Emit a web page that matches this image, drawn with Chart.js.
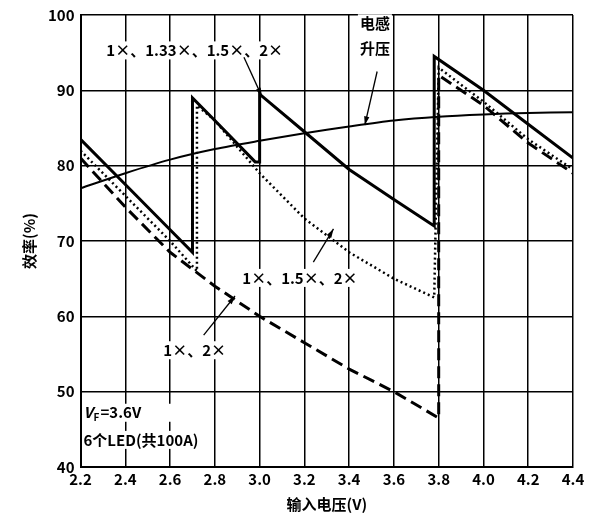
<!DOCTYPE html>
<html><head><meta charset="utf-8">
<script src="https://cdn.jsdelivr.net/npm/chart.js@4"></script>
<style>html,body{margin:0;background:#fff}#w{width:595px;height:529px}</style>
</head><body><div id="w"><canvas id="c"></canvas></div>
<script>
const xTicks=[2.2,2.4,2.6,2.8,3.0,3.2,3.4,3.6,3.8,4.0,4.2,4.4];
const yTicks=[40,50,60,70,80,90,100];
const boostX=[2.2,2.4,2.6,2.8,3.0,3.2,3.4,3.6,3.8,4.0,4.2,4.4];
const boostY=[77,79,80.8,82.2,83.3,84.3,85.2,86,86.5,86.8,87,87.1];
const fourX=[2.2,2.4,2.6,2.7,2.7,2.8,2.98,3.0,3.0,3.2,3.4,3.6,3.78,3.78,4.0,4.2,4.4];
const fourY=[83.5,77.5,71.5,68.5,89,86,80.5,80.5,89.5,84.5,79.5,75.5,72,94.5,90,85.5,81];
const threeX=[2.2,2.4,2.6,2.72,2.72,2.8,3.0,3.2,3.4,3.6,3.78,3.8,4.0,4.2,4.4];
const threeY=[82,76,70,66,88,86,79,73,68.5,65,62.5,93,88.5,83.5,79.5];
const twoX=[2.2,2.4,2.6,2.8,3.0,3.2,3.4,3.6,3.8,3.8,4.0,4.2,4.4];
const twoY=[81,74.5,68.5,64,60,56.5,53,50,46.5,92,88,83,79];
const pts=(xs,ys)=>xs.map((x,i)=>({x,y:ys[i]}));
const F='"Noto Sans CJK SC","DejaVu Sans Mono",monospace';
const labels=[
 {t:'电感',x:3.515,y:98.9,a:'center'},{t:'升压',x:3.515,y:95.6,a:'center'},
 {t:'1×、1.33×、1.5×、2×',x:2.71,y:95.3,a:'center'},
 {t:'1×、1.5×、2×',x:3.18,y:65.1,a:'center'},
 {t:'1×、2×',x:2.71,y:55.5,a:'center'},
 {t:'6个LED(共100A)',x:2.213,y:43.6,a:'left'}];
const arrows=[[2.93,94.4,3.01,89.2],[3.525,92.5,3.47,85.4],[3.24,67.2,3.33,71.6],[2.75,57.5,2.89,62.7]];
const deco={id:'deco',afterDatasetsDraw(ch){const c=ch.ctx,xs=ch.scales.x,ys=ch.scales.y;
 c.save();c.fillStyle='#000';c.font='bold 15px '+F;c.textBaseline='middle';
 labels.forEach(l=>{const px=xs.getPixelForValue(l.x),py=ys.getPixelForValue(l.y);
  c.textAlign=l.a;c.fillStyle='#fff';const w=c.measureText(l.t).width;
  c.fillRect(l.a==='left'?px-1:px-w/2-2,py-9,w+4,18);c.fillStyle='#000';c.fillText(l.t,px,py);});
 const px=xs.getPixelForValue(2.213),py=ys.getPixelForValue(47.2);
 c.textAlign='left';c.fillStyle='#fff';c.fillRect(px-1,py-9,90,18);c.fillStyle='#000';
 c.font='italic bold 15px '+F;c.fillText('V',px,py);c.font='bold 10px '+F;c.fillText('F',px+10,py+4);
 c.font='bold 15px '+F;c.fillText('=3.6V',px+17,py);
 c.lineWidth=1.3;c.strokeStyle='#000';
 arrows.forEach(a=>{const x1=xs.getPixelForValue(a[0]),y1=ys.getPixelForValue(a[1]),x2=xs.getPixelForValue(a[2]),y2=ys.getPixelForValue(a[3]);
  c.beginPath();c.moveTo(x1,y1);c.lineTo(x2,y2);c.stroke();
  const an=Math.atan2(y2-y1,x2-x1);c.beginPath();c.moveTo(x2,y2);
  c.lineTo(x2-9*Math.cos(an-0.3),y2-9*Math.sin(an-0.3));c.lineTo(x2-9*Math.cos(an+0.3),y2-9*Math.sin(an+0.3));c.closePath();c.fill();});
 c.restore();}};
new Chart(document.getElementById('c'),{type:'scatter',
 data:{datasets:[
  {data:pts(boostX,boostY),showLine:true,borderColor:'#000',borderWidth:2,pointRadius:0,tension:0.3},
  {data:pts(fourX,fourY),showLine:true,borderColor:'#000',borderWidth:3,pointRadius:0},
  {data:pts(threeX,threeY),showLine:true,borderColor:'#000',borderWidth:2.5,borderDash:[2,3],pointRadius:0},
  {data:pts(twoX,twoY),showLine:true,borderColor:'#000',borderWidth:3,borderDash:[12,6],pointRadius:0}]},
 options:{responsive:true,maintainAspectRatio:false,animation:false,
  layout:{padding:{top:9,right:22,left:16,bottom:12}},
  plugins:{legend:{display:false},tooltip:{enabled:false}},
  scales:{
   x:{type:'linear',min:2.2,max:4.4,afterBuildTicks:s=>{s.ticks=xTicks.map(v=>({value:v}))},
    ticks:{color:'#000',font:{family:F,size:15,weight:'bold'},callback:v=>v.toFixed(1),maxRotation:0},
    grid:{color:'#000',lineWidth:1.5,drawTicks:false},border:{color:'#000',width:2},
    title:{display:true,text:'输入电压(V)',color:'#000',font:{family:F,size:15,weight:'bold'}}},
   y:{min:40,max:100,afterBuildTicks:s=>{s.ticks=yTicks.map(v=>({value:v}))},
    ticks:{color:'#000',font:{family:F,size:15,weight:'bold'},padding:6},
    grid:{color:'#000',lineWidth:1.5,drawTicks:false},border:{color:'#000',width:2},
    title:{display:true,text:'效率(%)',color:'#000',font:{family:F,size:15,weight:'bold'}}}}},
 plugins:[deco]});
</script></body></html>
